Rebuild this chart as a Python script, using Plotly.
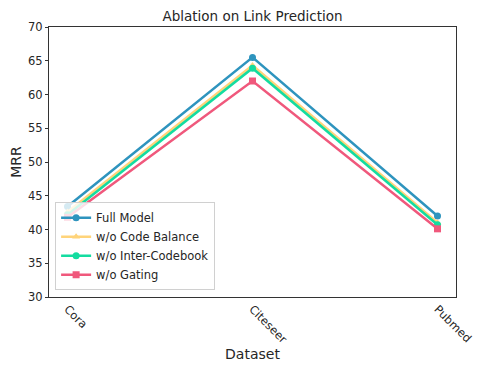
import plotly.graph_objects as go

datasets = ['Cora', 'Citeseer', 'Pubmed']
full_model = [43.4, 65.5, 42.0]
wo_code_balance = [42.6, 64.3, 41.0]
wo_inter_codebook = [42.2, 63.9, 40.7]
wo_gating = [41.8, 62.0, 40.1]
y_ticks = [30, 35, 40, 45, 50, 55, 60, 65, 70]

series = [
    ('Full Model', full_model, '#2E94BE', 'circle'),
    ('w/o Code Balance', wo_code_balance, '#FFD47A', 'triangle-up'),
    ('w/o Inter-Codebook', wo_inter_codebook, '#14DCA0', 'circle'),
    ('w/o Gating', wo_gating, '#F0587C', 'square'),
]

fig = go.Figure()
for name, vals, color, symbol in series:
    fig.add_trace(go.Scatter(
        x=datasets, y=vals, name=name, mode='lines+markers',
        line=dict(color=color, width=2.5),
        marker=dict(color=color, symbol=symbol, size=7),
    ))

fig.update_layout(
    width=489, height=374,
    margin=dict(l=41, r=41, t=19, b=85),
    paper_bgcolor='white', plot_bgcolor='white',
    font=dict(family='DejaVu Sans', size=11.5, color='#262626'),
    title=dict(text='Ablation on Link Prediction', x=0.5, xanchor='center', y=0.978, yanchor='middle',
               font=dict(size=13.5)),
    showlegend=True,
    legend=dict(x=0.015, y=0.025, xanchor='left', yanchor='bottom',
                bgcolor='rgba(255,255,255,0.8)', bordercolor='#D0D0D0', borderwidth=1,
                font=dict(size=11.5), tracegroupgap=0),
)
fig.update_xaxes(
    title=dict(text='Dataset', standoff=4), range=[-0.1, 2.1], tickangle=45,
    showline=True, linecolor='#333333', linewidth=1, mirror=True,
    showgrid=False, ticks='', zeroline=False, automargin=False,
)
fig.update_yaxes(
    title=dict(text='MRR', standoff=4), range=[30, 70], tickvals=y_ticks,
    showline=True, linecolor='#333333', linewidth=1, mirror=True,
    showgrid=False, ticks='outside', ticklen=3, tickcolor='#333333', zeroline=False,
    automargin=False,
)

fig.write_html('out.html')
